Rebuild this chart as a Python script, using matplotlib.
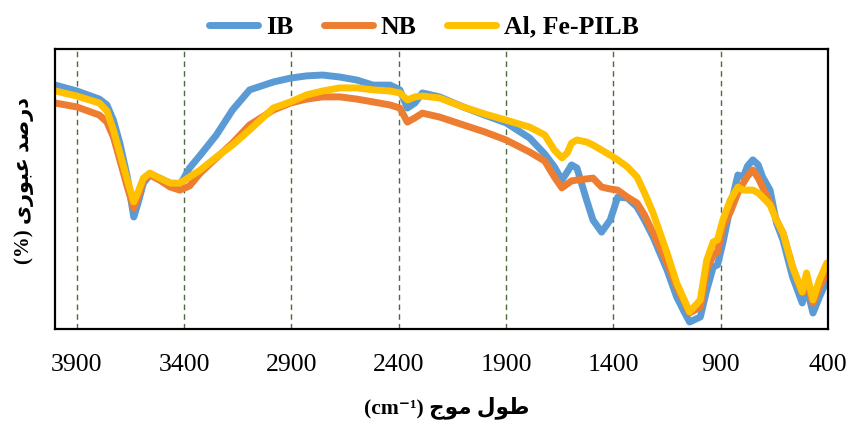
import matplotlib
matplotlib.use("Agg")
import matplotlib.pyplot as plt

# FTIR spectra: wavenumber (cm-1) and transmittance (%)
wavenumber = [4000, 3900, 3795, 3760, 3730, 3700, 3665, 3635, 3615, 3590,
              3560, 3515, 3465, 3420, 3375, 3325, 3250, 3175, 3095, 2985,
              2905, 2830, 2755, 2675, 2595, 2520, 2440, 2395, 2360, 2325,
              2290, 2210, 2100, 2000, 1900, 1790, 1720, 1675, 1640, 1615,
              1595, 1570, 1525, 1495, 1455, 1415, 1380, 1335, 1290, 1255,
              1215, 1150, 1105, 1070, 1045, 995, 965, 935, 915, 890,
              855, 820, 795, 775, 750, 725, 705, 670, 640, 610,
              565, 520, 500, 470, 440, 405]

ib = [87.1, 85.0, 82.1, 80.0, 74.6, 66.4, 54.3, 40.0, 45.0, 52.1,
      55.0, 53.9, 52.1, 51.4, 57.5, 62.1, 69.3, 78.2, 85.4, 88.2,
      89.6, 90.4, 90.7, 90.0, 88.9, 87.1, 87.1, 85.4, 78.9, 80.7,
      84.3, 82.9, 79.3, 76.4, 73.6, 68.2, 62.5, 57.9, 53.2, 56.1,
      58.6, 57.5, 46.1, 38.9, 34.6, 38.9, 47.1, 46.8, 43.6, 38.9,
      32.9, 21.1, 11.4, 6.1, 2.5, 4.3, 13.9, 22.1, 22.9, 30.7,
      43.6, 55.0, 54.3, 58.2, 60.4, 58.6, 54.3, 49.6, 37.9, 31.8,
      18.6, 9.3, 15.0, 5.7, 11.4, 17.5]

nb = [80.7, 79.3, 76.4, 73.9, 68.6, 60.4, 50.7, 43.2, 47.1, 53.2,
      55.0, 53.2, 50.7, 49.6, 51.1, 55.7, 61.1, 66.4, 72.9, 78.2,
      80.7, 82.1, 82.9, 82.9, 82.1, 81.1, 80.0, 78.9, 73.9, 75.4,
      77.1, 75.7, 72.9, 70.4, 67.5, 63.2, 60.0, 54.3, 50.4, 51.8,
      52.9, 53.2, 53.6, 53.9, 50.7, 50.0, 49.6, 47.1, 45.0, 40.7,
      34.3, 23.6, 15.0, 9.6, 5.7, 7.9, 21.1, 26.4, 27.5, 36.4,
      41.8, 48.6, 52.1, 54.6, 56.8, 53.9, 50.7, 45.0, 38.9, 34.3,
      22.1, 12.9, 16.4, 9.3, 15.0, 20.0]

pilb = [85.0, 83.2, 80.7, 77.9, 71.1, 62.9, 53.2, 45.4, 48.9, 53.9,
        55.7, 53.9, 52.1, 52.1, 54.3, 56.8, 61.4, 65.7, 71.1, 78.9,
        81.1, 83.6, 85.0, 86.1, 86.1, 85.4, 85.0, 84.3, 81.8, 82.9,
        83.2, 82.5, 79.3, 76.8, 74.6, 72.1, 69.3, 63.9, 61.1, 62.9,
        66.4, 67.5, 66.8, 65.7, 63.9, 62.1, 60.4, 57.9, 54.3, 48.6,
        41.4, 27.1, 16.4, 10.4, 6.1, 10.4, 24.6, 31.1, 31.8, 38.9,
        46.1, 50.7, 49.6, 49.6, 49.6, 48.6, 47.1, 44.3, 38.9, 34.3,
        22.1, 13.2, 20.0, 10.4, 17.5, 23.6]

series_names = ["IB", "NB", "Al, Fe-PILB"]
series_colors = ["#5B9BD5", "#ED7D31", "#FFC000"]
tick_values = [3900, 3400, 2900, 2400, 1900, 1400, 900, 400]

# Persian labels written in presentation forms, visual order
ylabel_text = "(%) \uFEEF\uFEAD\uFEEE\uFE92\uFECB \uFEAA\uFEBB\uFEAD\uFEA9"
xlabel_text = "(cm\u207B\u00B9) \uFE9D\uFEEE\uFEE3 \uFEDD\uFEEE\uFEC3"

fig = plt.figure(figsize=(8.48, 4.24), dpi=100)
ax = fig.add_axes([55 / 848, 1 - 329 / 424, (828 - 55) / 848, (329 - 49) / 424])

for ys, name, col in zip([ib, nb, pilb], series_names, series_colors):
    ax.plot(wavenumber, ys, color=col, lw=5.0, label=name,
            solid_joinstyle="round", solid_capstyle="round")

ax.set_xlim(4002, 400)
ax.set_ylim(0, 100)

for t in tick_values[:-1]:
    ax.axvline(t, color="#4d6b3c", lw=1.0, ls=(0, (4, 3)), zorder=0)

ax.set_xticks(tick_values)
ax.set_xticklabels([str(t) for t in tick_values], fontfamily="Liberation Serif",
                   fontsize=18.5)
ax.tick_params(axis="x", length=0, pad=18)
ax.set_yticks([])
for sp in ax.spines.values():
    sp.set_linewidth(1.6)
    sp.set_color("black")

fig.text(447 / 848, 1 - 408 / 424, xlabel_text, ha="center", va="center",
         fontsize=15.5, fontweight="bold",
         family=["Liberation Serif", "DejaVu Sans"])
fig.text(24 / 848, 1 - 180 / 424, ylabel_text, ha="center", va="center",
         rotation=90, fontsize=15, fontweight="bold",
         family=["Liberation Serif", "DejaVu Sans"])

leg = fig.legend(loc="center", bbox_to_anchor=(0.5, 1 - 27 / 424), ncol=3,
                 frameon=False, handlelength=1.9, handletextpad=0.3,
                 columnspacing=1.2,
                 prop={"family": "Liberation Serif", "weight": "bold", "size": 18.5})
for line in leg.get_lines():
    line.set_linewidth(5.0)

fig.savefig("out.png", dpi=100)
